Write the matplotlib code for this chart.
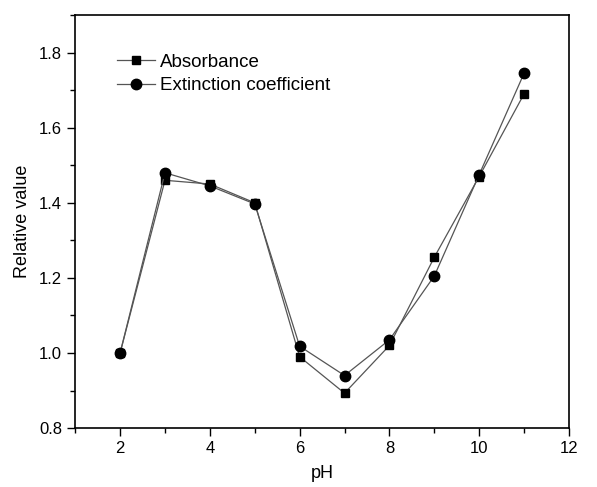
import matplotlib

matplotlib.use("Agg")
import matplotlib.pyplot as plt
from matplotlib.ticker import MultipleLocator

plt.rcParams["font.family"] = ["Liberation Sans", "DejaVu Sans"]

ph = [2, 3, 4, 5, 6, 7, 8, 9, 10, 11]
absorbance = [1.0, 1.46, 1.45, 1.40, 0.99, 0.893, 1.02, 1.255, 1.47, 1.69]
extinction = [1.0, 1.48, 1.445, 1.397, 1.018, 0.94, 1.035, 1.205, 1.475, 1.745]

fig = plt.figure(figsize=(5.97, 4.87), dpi=100)
ax = fig.add_axes([0.126, 0.121, 0.827, 0.848])

ax.plot(ph, absorbance, "-", color="#555555", lw=0.9, marker="s", ms=6.2,
        mfc="black", mec="black", label="Absorbance")
ax.plot(ph, extinction, "-", color="#555555", lw=0.9, marker="o", ms=7.5,
        mfc="black", mec="black", label="Extinction coefficient")

ax.set_xlim(1, 12)
ax.set_ylim(0.8, 1.9)
ax.xaxis.set_major_locator(MultipleLocator(2))
ax.xaxis.set_minor_locator(MultipleLocator(1))
ax.yaxis.set_major_locator(MultipleLocator(0.2))
ax.yaxis.set_minor_locator(MultipleLocator(0.1))
ax.tick_params(which="both", direction="out", labelsize=12, width=1.0)
ax.tick_params(which="major", length=6)
ax.tick_params(which="minor", length=3.5)
for s in ax.spines.values():
    s.set_linewidth(1.2)

ax.set_xlabel("pH", fontsize=13, labelpad=6)
ax.set_ylabel("Relative value", fontsize=13, labelpad=6)
ax.legend(loc="upper left", bbox_to_anchor=(0.07, 0.925), frameon=False,
          fontsize=13.5, handlelength=2.0, handletextpad=0.3, labelspacing=0.35,
          borderaxespad=0)

fig.savefig("out.png", dpi=100)
